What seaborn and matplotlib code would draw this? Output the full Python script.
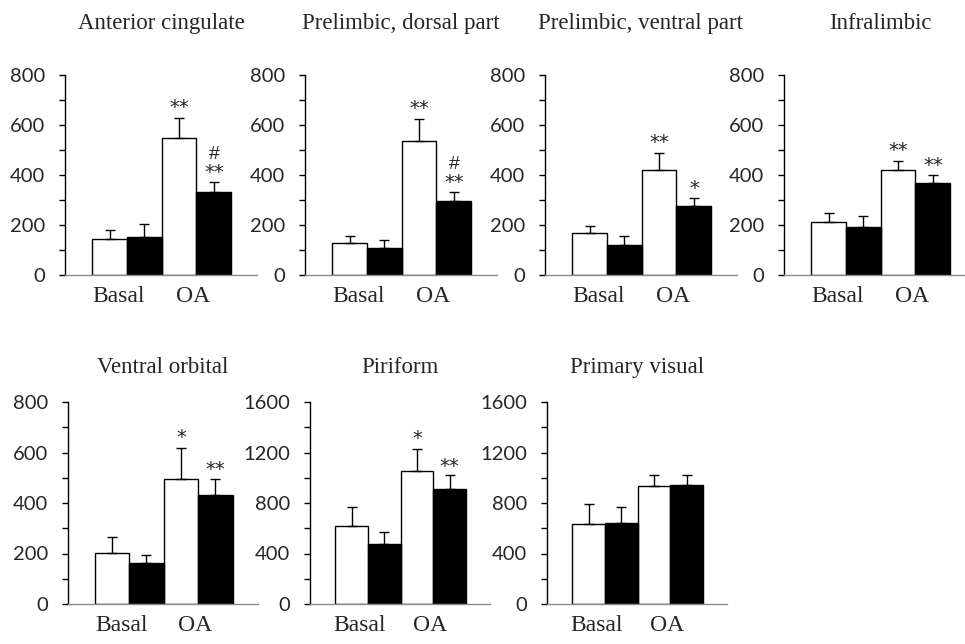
import matplotlib
matplotlib.use("Agg")
import matplotlib.pyplot as plt
from matplotlib.ticker import MultipleLocator
from matplotlib.transforms import ScaledTranslation
import seaborn as sns
import pandas as pd

regions = ["Anterior cingulate", "Prelimbic, dorsal part", "Prelimbic, ventral part",
           "Infralimbic", "Ventral orbital", "Piriform", "Primary visual"]
groups = ["Basal", "OA"]
series = ["open", "filled"]

open_mean = [[145, 547], [129, 536], [167, 420], [212, 419], [201, 497], [615, 1054], [633, 932]]
open_sem = [[35, 80], [28, 87], [30, 67], [35, 37], [63, 121], [153, 175], [162, 93]]
filled_mean = [[151, 333], [107, 295], [120, 277], [192, 366], [161, 430], [477, 911], [644, 946]]
filled_sem = [[52, 40], [33, 38], [36, 32], [43, 35], [33, 67], [90, 111], [122, 79]]

open_sig = [["", "**"], ["", "**"], ["", "**"], ["", "**"], ["", "*"], ["", "*"], ["", ""]]
filled_sig = [["", "**"], ["", "**"], ["", "*"], ["", "**"], ["", "**"], ["", "**"], ["", ""]]
filled_hash = [["", "#"], ["", "#"], ["", ""], ["", ""], ["", ""], ["", ""], ["", ""]]

y_max = [800, 800, 800, 800, 800, 1600, 1600]

sns.set_theme(style="white")
plt.rcParams["font.family"] = ["Liberation Serif", "DejaVu Serif"]

W, H = 965, 644
fig = plt.figure(figsize=(W / 100, H / 100), dpi=100)

# axes boxes in pixels: left, bottom(y0 pixel from top), width, height
boxes = [(65, 275, 192, 200), (305, 275, 192, 200), (545, 275, 192, 200), (784, 275, 192, 200),
         (68, 604, 190, 202), (310, 604, 180, 202), (547, 604, 180, 202)]
title_pads = [33, 33, 33, 33, 21, 21, 21]

for i, reg in enumerate(regions):
    l, b, w, h = boxes[i]
    ax = fig.add_axes([l / W, (H - b) / H, w / W, h / H])
    df = pd.DataFrame({
        "group": groups * 2,
        "series": [series[0]] * 2 + [series[1]] * 2,
        "value": open_mean[i] + filled_mean[i],
    })
    sns.barplot(data=df, x="group", y="value", hue="series", order=groups, hue_order=series,
                palette=["white", "black"], edgecolor="black", linewidth=1.0, width=1.0,
                errorbar=None, legend=False, ax=ax)
    patches = sorted(ax.patches, key=lambda p: p.get_x())
    errs = [open_sem[i][0], filled_sem[i][0], open_sem[i][1], filled_sem[i][1]]
    sigs = [open_sig[i][0], filled_sig[i][0], open_sig[i][1], filled_sig[i][1]]
    hashes = ["", filled_hash[i][0], "", filled_hash[i][1]]
    for k, (p, e, s, hs) in enumerate(zip(patches, errs, sigs, hashes)):
        xc = p.get_x() + p.get_width() / 2
        top = p.get_height()
        ax.errorbar([xc], [top], yerr=[[0], [e]], fmt="none", ecolor="black",
                    elinewidth=1.0, capsize=3.6, capthick=1.0, zorder=3)
        if s:
            ax.annotate(s, xy=(xc, top + e), xytext=(0, 3.5 if k % 2 == 0 else 2.5),
                        textcoords="offset points", ha="center", va="baseline",
                        fontsize=14, family=["DejaVu Sans"])
        if hs:
            ax.annotate(hs, xy=(xc, top + e), xytext=(0, 16.5), textcoords="offset points",
                        ha="center", va="baseline", fontsize=14, family=["Liberation Sans"])
    ax.set_xlim(-0.89, 1.87)
    ax.set_ylim(0, y_max[i])
    ax.yaxis.set_major_locator(MultipleLocator(y_max[i] / 4))
    ax.yaxis.set_minor_locator(MultipleLocator(y_max[i] / 8))
    ax.set_xlabel("")
    ax.set_ylabel("")
    ax.set_title(reg, fontsize=16.5, pad=title_pads[i], family=["Liberation Serif"])
    for sp in ["top", "right"]:
        ax.spines[sp].set_visible(False)
    ax.spines["left"].set_color("black")
    ax.spines["left"].set_linewidth(1.0)
    ax.spines["bottom"].set_color("#8c8c8c")
    ax.spines["bottom"].set_linewidth(1.0)
    ax.tick_params(axis="y", which="both", direction="out", length=4.5, width=1.0,
                   color="black", left=True, pad=10)
    ax.tick_params(axis="x", length=0, pad=8)
    for t in ax.get_yticklabels():
        t.set_fontfamily(["Lato", "DejaVu Sans"])
        t.set_fontsize(14.5)
    for t, dx in zip(ax.get_xticklabels(), [-8, -3]):
        t.set_fontfamily(["Liberation Serif"])
        t.set_fontsize(17)
        t.set_transform(t.get_transform() + ScaledTranslation(dx / 100, 0, fig.dpi_scale_trans))
    ax.set_facecolor("none")

fig.savefig("out.png", dpi=100, facecolor="white")
